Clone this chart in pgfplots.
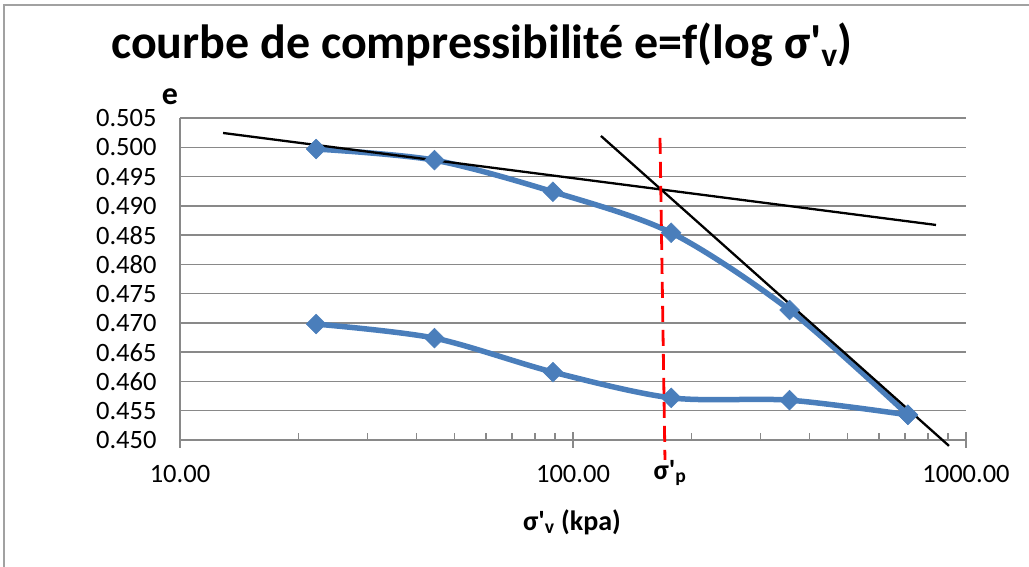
\documentclass[border=0pt]{standalone}
\usepackage{pgfplots}
\pgfplotsset{compat=1.18}
\usepackage{fontspec}
\setmainfont{Carlito}[Ligatures=TeXOff]
\definecolor{exblue}{RGB}{74,126,187}
\definecolor{gridgray}{RGB}{137,137,137}
\begin{document}
\begin{tikzpicture}[x=1bp,y=1bp]
\useasboundingbox (0,0) rectangle (1029,567);
\draw[gridgray!80, line width=1.2bp] (4,0) -- (4,562) -- (1029,562);
\begin{axis}[
  at={(180bp,127bp)}, anchor=south west,
  scale only axis, width=786bp, height=322bp,
  xmode=log, xmin=10, xmax=1000, ymin=0.45, ymax=0.505,
  clip=false,
  axis x line=bottom, axis y line=left,
  axis line style={gridgray, line width=1.5bp, -},
  xtick={10,100,1000}, xticklabels={10.00,100.00,1000.00},
  ytick={0.450,0.455,0.460,0.465,0.470,0.475,0.480,0.485,0.490,0.495,0.500,0.505},
  yticklabels={0.450,0.455,0.460,0.465,0.470,0.475,0.480,0.485,0.490,0.495,0.500,0.505},
  ymajorgrids, major grid style={gridgray, line width=1.5bp},
  tick align=inside,
  major tick length=16bp, minor tick length=7bp,
  every major x tick/.append style={yshift=-8bp},
  xtick style={gridgray, line width=1.5bp},
  ytick style={draw=none},
  ticklabel style={font=\fontsize{26.5bp}{30bp}\selectfont},
  xticklabel style={yshift=-22bp},
  yticklabel style={xshift=-20bp},
  /pgf/number format/assume math mode=true,
]
\addplot[exblue, line width=5.5bp, smooth, mark=square*, mark size=7bp, mark options={rotate=45, fill=exblue, line width=0.5bp}]
 coordinates {(22.2,0.4997) (44.4,0.4978) (88.9,0.4924) (177.8,0.4854) (355.6,0.4722) (711.2,0.4543)};
\addplot[exblue, line width=5.5bp, smooth, mark=square*, mark size=7bp, mark options={rotate=45, fill=exblue, line width=0.5bp}]
 coordinates {(22.2,0.4698) (44.4,0.4674) (88.9,0.4616) (177.8,0.4572) (355.6,0.4568) (711.2,0.4543)};
\addplot[black, line width=2.3bp] coordinates {(12.87,0.50244) (838.8,0.48673)};
\addplot[black, line width=2.3bp] coordinates {(117.8,0.50193) (905,0.4490)};
\addplot[red, line width=2.8bp, dash pattern=on 16bp off 8bp] coordinates {(166.5,0.5016) (171.4,0.4466)};
\end{axis}
\node[font=\fontsize{48bp}{54bp}\selectfont\bfseries] at (482,522) {courbe de compressibilité e=f(log σ'\textsubscript{v})};
\node[font=\fontsize{32bp}{36bp}\selectfont\bfseries] at (170,470) {e};
\node[font=\fontsize{28bp}{32bp}\selectfont\bfseries] at (572,45) {σ'\textsubscript{v} (kpa)};
\node[font=\fontsize{28bp}{32bp}\selectfont\bfseries] at (670,94) {σ'\textsubscript{p}};
\end{tikzpicture}
\end{document}
